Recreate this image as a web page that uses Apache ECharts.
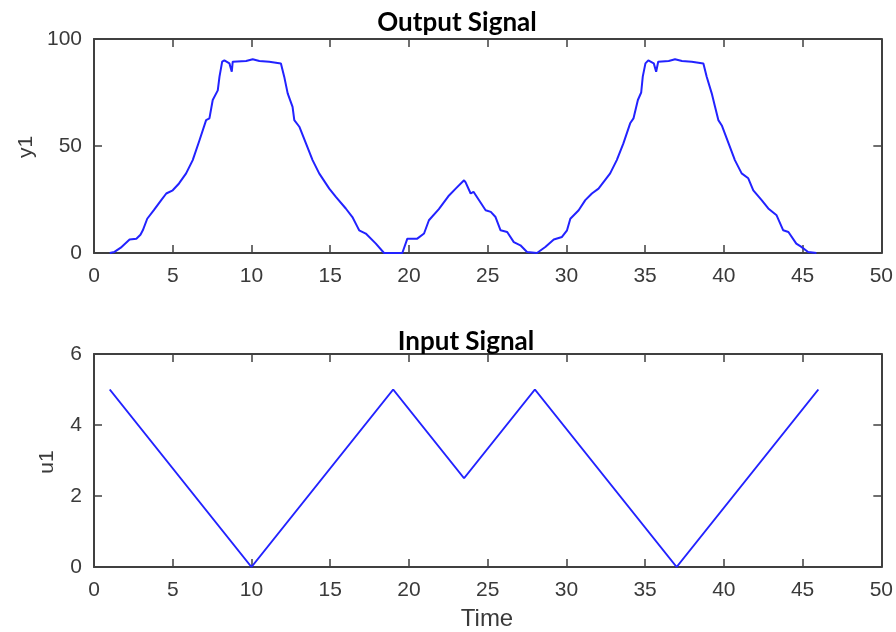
<!DOCTYPE html>
<html>
<head>
<meta charset="utf-8">
<script src="https://cdn.jsdelivr.net/npm/echarts@6/dist/echarts.min.js"></script>
<style>
  html, body { margin: 0; padding: 0; background: #fff; }
  #chart { width: 896px; height: 632px; }
</style>
</head>
<body>
<div id="chart"></div>
<script>
// Output signal y1 sampled over time
const outTime = [1.0, 1.3, 1.7, 2.26, 2.69, 2.95, 3.1, 3.38, 3.8, 4.27, 4.59, 5.0, 5.4, 5.85, 6.27, 6.7, 7.12, 7.33, 7.54, 7.86, 7.97, 8.14, 8.28, 8.6, 8.72, 8.75, 8.81, 9.66, 10.08, 10.5, 11.13, 11.87, 12.08, 12.3, 12.61, 12.72, 13.04, 13.46, 13.88, 14.3, 14.94, 15.36, 15.99, 16.41, 16.73, 16.84, 17.26, 17.9, 18.42, 19.58, 19.9, 20.53, 20.96, 21.27, 21.9, 22.5, 22.97, 23.5, 23.6, 23.92, 24.1, 24.87, 25.2, 25.5, 25.82, 26.24, 26.66, 27.08, 27.5, 28.13, 28.66, 29.2, 29.72, 30.04, 30.25, 30.78, 31.2, 31.62, 32.04, 32.78, 33.2, 33.62, 34.05, 34.26, 34.54, 34.75, 34.85, 35.02, 35.2, 35.55, 35.67, 35.7, 35.83, 36.5, 36.9, 37.34, 37.96, 38.7, 38.91, 39.23, 39.44, 39.65, 39.87, 40.3, 40.7, 41.13, 41.55, 41.87, 42.4, 42.82, 43.35, 43.77, 44.1, 44.6, 44.9, 45.35, 45.88];
const outValues = [0, 0.5, 2.5, 6.3, 6.7, 8.5, 10.6, 16, 20, 24.7, 27.8, 29.3, 32.5, 37.2, 43.4, 52.7, 62.1, 62.9, 71.5, 76, 82.4, 89.4, 90, 88.6, 88.4, 84.7, 89.4, 89.7, 90.5, 89.7, 89.4, 88.6, 82.4, 74.6, 68.3, 62.1, 59, 51.2, 43.4, 37.2, 30.1, 26.2, 20.8, 16.8, 12.2, 10.6, 9.1, 4.4, 0, 0, 6.7, 6.7, 9.1, 15.3, 20.5, 26.5, 30.1, 34, 33, 27.8, 28.6, 20, 19.2, 16.8, 10.6, 9.8, 5.1, 3.6, 0.5, 0, 2.8, 6.3, 7.5, 10.6, 16, 20, 24.7, 27.8, 30.1, 37.2, 43.4, 51.2, 60.6, 62.9, 71.5, 75, 82.4, 88.6, 90, 88.6, 88.4, 84.7, 89.4, 89.7, 90.5, 89.7, 89.4, 88.6, 82.4, 74.6, 68.3, 62.1, 59.6, 51.2, 43.4, 37.2, 34.9, 29.3, 24.7, 20.8, 17.6, 10.6, 9.8, 4.4, 3, 0.5, 0];

// Input signal u1 (piecewise linear ramps)
const inTime = [1, 10, 19, 23.5, 28, 37, 46];
const inValues = [5, 0, 5, 2.5, 5, 0, 5];

// Axis ticks
const timeTicks = [0, 5, 10, 15, 20, 25, 30, 35, 40, 45, 50];
const y1Ticks = [0, 50, 100];
const u1Ticks = [0, 2, 4, 6];

const toPairs = (xs, ys) => xs.map((x, i) => [x, ys[i]]);

const frameColor = '#404040';
const labelColor = '#3a3a3a';
const lineColor = '#2222ff';
const tickFont = { fontFamily: 'Liberation Sans', fontSize: 21, color: labelColor };

function xAxisDef(gridIndex, position, ticks, showLabels) {
  return {
    type: 'value', gridIndex, position,
    min: ticks[0], max: ticks[ticks.length - 1], interval: ticks[1] - ticks[0],
    axisLine: { show: true, onZero: false, lineStyle: { color: frameColor, width: 2 } },
    axisTick: { show: true, inside: true, length: 8, lineStyle: { color: frameColor, width: 1.5 } },
    axisLabel: Object.assign({ show: showLabels, margin: 13 }, tickFont),
    splitLine: { show: false }
  };
}
function yAxisDef(gridIndex, position, ticks, showLabels) {
  return {
    type: 'value', gridIndex, position,
    min: ticks[0], max: ticks[ticks.length - 1], interval: ticks[1] - ticks[0],
    axisLine: { show: true, onZero: false, lineStyle: { color: frameColor, width: 2 } },
    axisTick: { show: true, inside: true, length: 8, lineStyle: { color: frameColor, width: 1.5 } },
    axisLabel: Object.assign({ show: showLabels, margin: 12 }, tickFont),
    splitLine: { show: false }
  };
}

const chart = echarts.init(document.getElementById('chart'), null, { renderer: 'canvas' });

chart.setOption({
  backgroundColor: '#ffffff',
  animation: false,
  grid: [
    { left: 94, top: 39, width: 789, height: 214 },
    { left: 94, top: 354, width: 789, height: 213 }
  ],
  xAxis: [
    xAxisDef(0, 'bottom', timeTicks, true),
    xAxisDef(0, 'top', timeTicks, false),
    xAxisDef(1, 'bottom', timeTicks, true),
    xAxisDef(1, 'top', timeTicks, false)
  ],
  yAxis: [
    yAxisDef(0, 'left', y1Ticks, true),
    yAxisDef(0, 'right', y1Ticks, false),
    yAxisDef(1, 'left', u1Ticks, true),
    yAxisDef(1, 'right', u1Ticks, false)
  ],
  series: [
    {
      name: 'y1', type: 'line', xAxisIndex: 0, yAxisIndex: 0,
      data: toPairs(outTime, outValues),
      showSymbol: false, symbol: 'none',
      lineStyle: { color: lineColor, width: 2 }
    },
    {
      name: 'u1', type: 'line', xAxisIndex: 2, yAxisIndex: 2,
      data: toPairs(inTime, inValues),
      showSymbol: false, symbol: 'none',
      lineStyle: { color: lineColor, width: 2 }
    }
  ],
  graphic: [
    { type: 'text', x: 457, y: 23, z: 10, style: { text: 'Output Signal', fontFamily: 'Lato', fontWeight: 'bold', fontSize: 26, fill: '#000', align: 'center', verticalAlign: 'middle' } },
    { type: 'text', x: 466, y: 342, z: 10, style: { text: 'Input Signal', fontFamily: 'Lato', fontWeight: 'bold', fontSize: 26, fill: '#000', align: 'center', verticalAlign: 'middle' } },
    { type: 'text', x: 26, y: 147, rotation: Math.PI / 2, style: { text: 'y1', fontFamily: 'Liberation Sans', fontSize: 21, fill: labelColor, align: 'center', verticalAlign: 'middle' } },
    { type: 'text', x: 47, y: 462, rotation: Math.PI / 2, style: { text: 'u1', fontFamily: 'Liberation Sans', fontSize: 21, fill: labelColor, align: 'center', verticalAlign: 'middle' } },
    { type: 'text', x: 487, y: 619, style: { text: 'Time', fontFamily: 'Liberation Sans', fontSize: 24, fill: labelColor, align: 'center', verticalAlign: 'middle' } }
  ]
});
</script>
</body>
</html>
